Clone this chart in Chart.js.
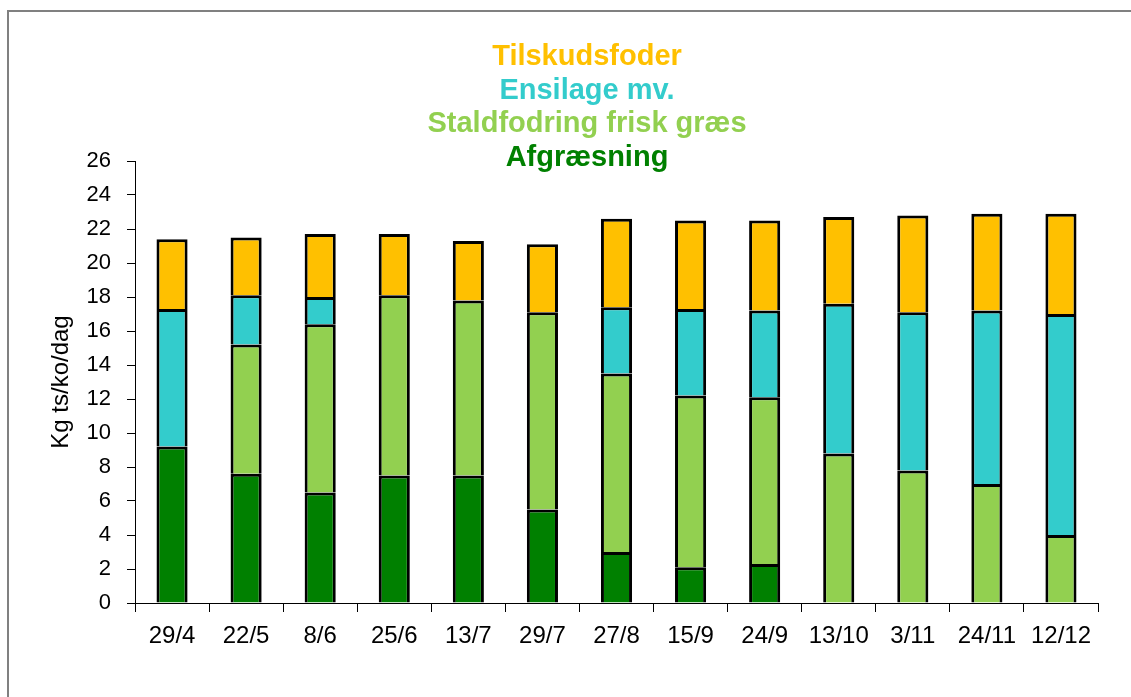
<!DOCTYPE html>
<html>
<head>
<meta charset="utf-8">
<script src="https://cdn.jsdelivr.net/npm/chart.js@4"></script>
<style>
  body { margin: 0; background: #fff; }
  #wrap { width: 1131px; height: 697px; position: relative; }
</style>
</head>
<body>
<div id="wrap"><canvas id="feedChart" width="1131" height="697"></canvas></div>
<script>
const dates = ["29/4", "22/5", "8/6", "25/6", "13/7", "29/7", "27/8", "15/9", "24/9", "13/10", "3/11", "24/11", "12/12"]

// kg ts/ko/dag per fodertype (nederst til øverst i stakken)
const afgraesning = [9.2, 7.6, 6.5, 7.5, 7.5, 5.5, 3.0, 2.1, 2.3, 0, 0, 0, 0]
const staldfodring = [0, 7.6, 9.9, 10.6, 10.3, 11.6, 10.5, 10.1, 9.8, 8.8, 7.8, 7.0, 4.0]
const ensilage = [8.1, 2.9, 1.6, 0, 0, 0, 3.9, 5.1, 5.1, 8.8, 9.3, 10.2, 13.0]
const tilskud = [4.1, 3.4, 3.7, 3.6, 3.5, 4.0, 5.2, 5.2, 5.3, 5.1, 5.7, 5.7, 5.9]

const yTicks = [0, 2, 4, 6, 8, 10, 12, 14, 16, 18, 20, 22, 24, 26]

const frameAndLegend = {
  id: "frameAndLegend",
  beforeDraw(chart) {
    const ctx = chart.ctx
    ctx.save()
    ctx.strokeStyle = "#808080"
    ctx.lineWidth = 2
    ctx.beginPath()
    ctx.moveTo(8, 697)
    ctx.lineTo(8, 11)
    ctx.lineTo(1131, 11)
    ctx.stroke()
    ctx.restore()
  },
  afterDraw(chart) {
    const ctx = chart.ctx
    const sets = chart.data.datasets.slice().reverse()
    const baselines = [65, 98.5, 132, 166]
    ctx.save()
    ctx.font = "bold 29px 'Liberation Sans', Arial, sans-serif"
    ctx.textAlign = "center"
    ctx.textBaseline = "alphabetic"
    sets.forEach((ds, i) => {
      ctx.fillStyle = ds.backgroundColor
      ctx.fillText(ds.label, 587, baselines[i])
    })
    ctx.restore()
  },
}

const feedData = {
  labels: dates,
  datasets: [
    { label: "Afgræsning", data: afgraesning, backgroundColor: "#008000" },
    { label: "Staldfodring frisk græs", data: staldfodring, backgroundColor: "#92D050" },
    { label: "Ensilage mv.", data: ensilage, backgroundColor: "#33CCCC" },
    { label: "Tilskudsfoder", data: tilskud, backgroundColor: "#FFC000" },
  ].map((d) => ({
    ...d,
    borderColor: "#000",
    borderWidth: 3,
    categoryPercentage: 1,
    barPercentage: 0.42,
  })),
}

new Chart(document.getElementById("feedChart"), {
  type: "bar",
  data: feedData,
  options: {
    responsive: false,
    animation: false,
    devicePixelRatio: 1,
    layout: { padding: { top: 161, left: 30, right: 33, bottom: 0 } },
    plugins: { legend: { display: false }, tooltip: { enabled: false } },
    scales: {
      x: {
        stacked: true,
        offset: true,
        grid: { offset: true, drawOnChartArea: false, tickLength: 9, color: "#000" },
        border: { color: "#000", width: 1 },
        ticks: { color: "#000", padding: 10, font: { family: "'Liberation Sans', Arial", size: 24 } },
        afterFit(scale) { scale.height = 94 },
      },
      y: {
        stacked: true,
        min: 0,
        max: 26,
        afterBuildTicks(scale) { scale.ticks = yTicks.map((v) => ({ value: v })) },
        grid: { drawOnChartArea: false, tickLength: 8, color: "#000" },
        border: { color: "#000", width: 1 },
        ticks: { color: "#000", padding: 16, font: { family: "'Liberation Sans', Arial", size: 22 } },
        title: {
          display: true,
          text: "Kg ts/ko/dag",
          color: "#000",
          padding: { top: 17, bottom: 0 },
          font: { family: "'Liberation Sans', Arial", size: 24 },
        },
        afterFit(scale) { scale.width = 105 },
      },
    },
  },
  plugins: [frameAndLegend],
})
</script>
</body>
</html>
